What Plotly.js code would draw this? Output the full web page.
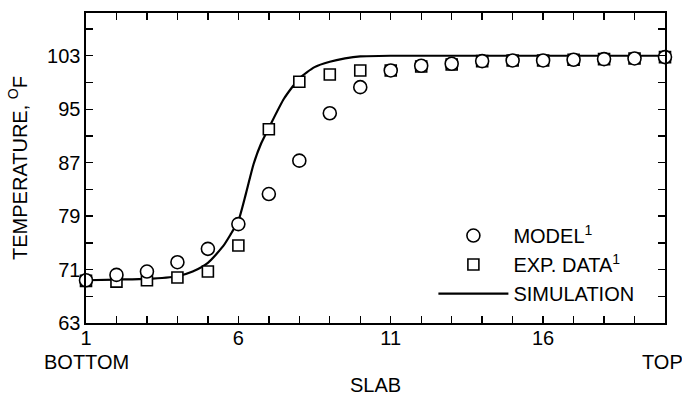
<!DOCTYPE html>
<html>
<head>
<meta charset="utf-8">
<script src="https://cdn.plot.ly/plotly-3.0.1.min.js"></script>
<style>html,body{margin:0;padding:0;background:#fff;}#chart{width:682px;height:398px;}</style>
</head>
<body>
<div id="chart"></div>
<script>
const slabs = [1,2,3,4,5,6,7,8,9,10,11,12,13,14,15,16,17,18,19,20];
const modelTemp = [69.4,70.2,70.7,72.1,74.1,77.8,82.3,87.3,94.4,98.3,100.8,101.5,101.8,102.2,102.3,102.3,102.4,102.5,102.6,102.8];
const expTemp = [69.3,69.2,69.4,69.8,70.7,74.6,92.0,99.1,100.2,100.8,100.8,101.4,101.7,102.2,102.3,102.3,102.4,102.5,102.6,102.8];
const simX = [1,2,3,4,4.5,5,5.5,5.75,6,6.25,6.5,6.75,7,7.5,8,8.5,9,9.5,10,11,12,13,14,15,16,17,18,19,20];
const simY = [69.4,69.5,69.6,70.0,70.7,72.0,74.5,76.3,78.3,82.4,86.8,89.9,92.2,96.6,99.6,101.3,102.1,102.6,102.9,103,103,103,103,103,103,103,103,103,103];
const xTickVals = [1,2,3,4,5,6,7,8,9,10,11,12,13,14,15,16,17,18,19,20];
const xTickText = ['1','','','','','6','','','','','11','','','','','16','','','',''];
const yTickVals = [63,67,71,75,79,83,87,91,95,99,103,107];
const yTickText = ['63','','71','','79','','87','','95','','103',''];
const endLabels = [{x:1, text:'BOTTOM', shift:0},{x:20, text:'TOP', shift:-3}];

const FONT = 'Liberation Sans, Arial, Helvetica, sans-serif';

const traces = [
  {x: simX, y: simY, mode: 'lines', name: 'SIMULATION', line: {color: '#000', width: 2.2, shape: 'spline', smoothing: 0.6}, legendrank: 3},
  {x: slabs, y: expTemp, mode: 'markers', name: 'EXP. DATA<sup>1</sup>', cliponaxis: false,
   marker: {symbol: 'square', size: 11, color: '#fff', line: {color: '#000', width: 1.6}}, legendrank: 2},
  {x: slabs, y: modelTemp, mode: 'markers', name: 'MODEL<sup>1</sup>', cliponaxis: false,
   marker: {symbol: 'circle', size: 13, color: '#fff', line: {color: '#000', width: 1.6}}, legendrank: 1}
];

const axisCommon = {
  showline: true, linecolor: '#000', linewidth: 1.6, mirror: 'allticks',
  ticks: 'inside', ticklen: 7, tickwidth: 1.4, tickcolor: '#000',
  showgrid: false, zeroline: false, automargin: false,
  tickfont: {family: FONT, size: 20, color: '#000'}
};

const layout = {
  width: 682, height: 398,
  margin: {l: 86, r: 17, t: 13, b: 75},
  paper_bgcolor: '#fff', plot_bgcolor: '#fff',
  font: {family: FONT, color: '#000', size: 20},
  showlegend: true,
  legend: {x: 0.6, y: 0.345, xanchor: 'left', yanchor: 'top', bgcolor: 'rgba(0,0,0,0)',
           font: {family: FONT, size: 20, color: '#000'}, itemwidth: 70, tracegroupgap: 0},
  xaxis: Object.assign({}, axisCommon, {
    range: [1, 20], tickmode: 'array', tickvals: xTickVals, ticktext: xTickText,
    ticklabelstandoff: -4,
    title: {text: 'SLAB', font: {family: FONT, size: 20, color: '#000'}, standoff: 30}
  }),
  yaxis: Object.assign({}, axisCommon, {
    range: [63, 109.4], tickmode: 'array', tickvals: yTickVals, ticktext: yTickText,
    title: {text: 'TEMPERATURE, <sup>O</sup>F', font: {family: FONT, size: 20, color: '#000'}, standoff: 14}
  }),
  annotations: endLabels.map(e => ({
    x: e.x, xref: 'x', y: 0, yref: 'paper', yanchor: 'top', yshift: -26, xshift: e.shift,
    text: e.text, showarrow: false, font: {family: FONT, size: 20, color: '#000'}
  }))
};

Plotly.newPlot('chart', traces, layout, {displayModeBar: false, staticPlot: true});
</script>
</body>
</html>
